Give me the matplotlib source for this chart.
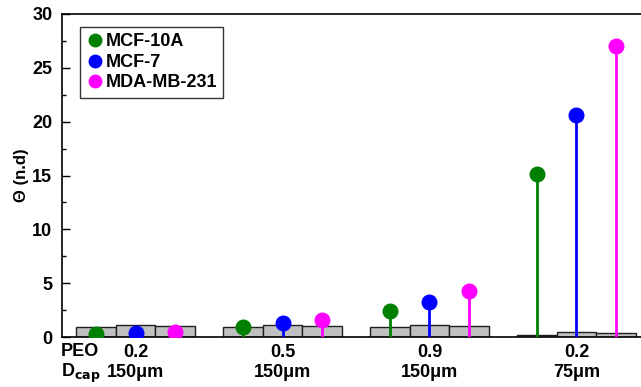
import numpy as np
import matplotlib.pyplot as plt
from matplotlib.lines import Line2D
import matplotlib.transforms as mtransforms

plt.rcParams['font.family'] = ['Liberation Sans', 'DejaVu Sans']
plt.rcParams['font.weight'] = 'bold'

# data
peo = ['0.2', '0.5', '0.9', '0.2']
dcap = ['150\u03bcm', '150\u03bcm', '150\u03bcm', '75\u03bcm']
cells = ['MCF-10A', 'MCF-7', 'MDA-MB-231']
colors = ['green', 'blue', 'magenta']

# gray reference bars (one per cell line and condition)
ref_10a = [0.90, 0.90, 0.90, 0.21]
ref_7 = [1.14, 1.14, 1.14, 0.46]
ref_231 = [0.98, 0.98, 0.98, 0.33]

# stems
theta_10a = [0.28, 0.89, 2.43, 15.1]
theta_7 = [0.37, 1.30, 3.22, 20.6]
theta_231 = [0.46, 1.60, 4.23, 27.0]

refs = [ref_10a, ref_7, ref_231]
thetas = [theta_10a, theta_7, theta_231]

fig = plt.figure(figsize=(6.41, 3.87), dpi=100)
ax = fig.add_axes([62/641, 1-337/387, 588/641, 323/387])

x = np.arange(len(peo))
w = 0.268
for i in range(3):
    xi = x + (i - 1) * w
    ax.bar(xi, refs[i], width=w, color='#c0c0c0', edgecolor='#202020', linewidth=1, zorder=2)
    ax.vlines(xi, 0, thetas[i], color=colors[i], linewidth=2, zorder=3)
    ax.plot(xi, thetas[i], 'o', color=colors[i], markersize=10.5, zorder=4)

ax.set_xlim(-0.5, 3.5)
ax.set_ylim(0, 30)
ax.set_yticks(np.arange(0, 31, 5))
ax.set_yticks(np.arange(2.5, 30, 5), minor=True)
ax.tick_params(axis='y', which='major', direction='in', length=6, width=1, labelsize=13, pad=7)
ax.tick_params(axis='y', which='minor', direction='in', length=3, width=1)
ax.set_xticks(x)
ax.set_xticklabels([p + '\n' + d for p, d in zip(peo, dcap)], fontsize=13, linespacing=1.25)
ax.tick_params(axis='x', length=0, pad=5)
for s in ['left', 'top', 'bottom']:
    ax.spines[s].set_linewidth(1.2)
ax.spines['right'].set_visible(False)

trans = mtransforms.blended_transform_factory(ax.transData, fig.transFigure)
ax.text(-0.507, 1-351/387, 'PEO', fontsize=13, ha='left', va='center', transform=trans)
ax.text(-0.507, 1-373/387, r'D$_{\mathbf{cap}}$', fontsize=13, ha='left', va='center', transform=trans)

ax.set_ylabel('\u0398 (n.d)', fontsize=12, fontweight='bold', labelpad=2)

handles = [Line2D([], [], marker='o', linestyle='none', color=c, markersize=9) for c in colors]
leg = ax.legend(handles, cells, loc='upper left', bbox_to_anchor=(0.031, 0.96), fontsize=13,
                frameon=True, fancybox=False, edgecolor='black', handletextpad=0.15,
                labelspacing=0.2, borderpad=0.35, handlelength=0.9, borderaxespad=0)
leg.get_frame().set_linewidth(1)

fig.savefig('out.png', dpi=100)
